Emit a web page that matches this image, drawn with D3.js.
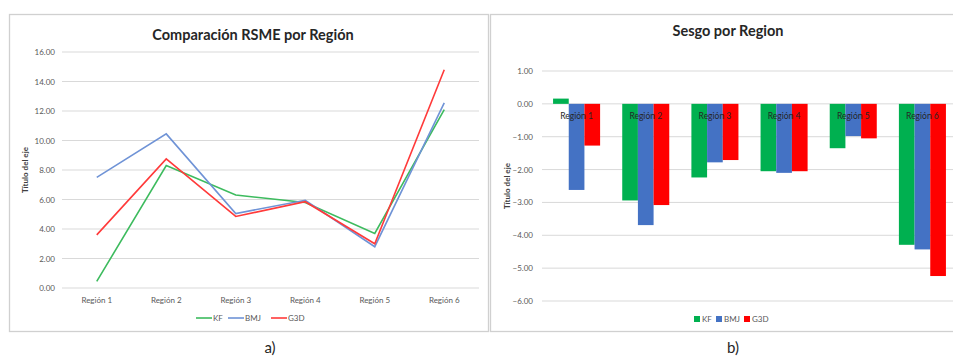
<!DOCTYPE html>
<html lang="es">
<head>
  <meta charset="UTF-8">
  <title>RSME y Sesgo por Región</title>
  <script src="https://d3js.org/d3.v7.min.js"></script>
  <style>
    body { margin: 0; background: #fff; }
    svg { display: block; font-family: Lato, "Liberation Sans", sans-serif; }
    .tick-label { font-size: 8px; fill: #595959; }
    .chart-title { font-size: 14.5px; font-weight: bold; fill: #262626; }
    .axis-title { font-size: 8px; font-weight: bold; fill: #404040; }
  </style>
</head>
<body>
  <svg id="chart" width="953" height="356"></svg>
  <script>
    const regions = ["Región 1", "Región 2", "Región 3", "Región 4", "Región 5", "Región 6"];
    const seriesNames = ["KF", "BMJ", "G3D"];

    // RSME por región
    const rsmeKF  = [0.45, 8.3, 6.3, 5.8, 3.7, 12.1];
    const rsmeBMJ = [7.5, 10.45, 5.05, 5.95, 2.8, 12.55];
    const rsmeG3D = [3.6, 8.75, 4.85, 5.85, 3.0, 14.8];
    const rsmeTicks = [0, 2, 4, 6, 8, 10, 12, 14, 16];

    // Sesgo por región
    const sesgoKF  = [0.16, -2.94, -2.24, -2.05, -1.35, -4.29];
    const sesgoBMJ = [-2.62, -3.69, -1.78, -2.1, -0.98, -4.43];
    const sesgoG3D = [-1.27, -3.08, -1.71, -2.05, -1.05, -5.24];
    const sesgoTicks = [1, 0, -1, -2, -3, -4, -5, -6];

    const lineColors = ["#3dbb5e", "#6f93d6", "#ff3a3a"];
    const barColors = ["#00b050", "#4472c4", "#ff0000"];
    const fmt = d3.format(".2f");

    const svg = d3.select("#chart");

    // panel frames
    svg.append("rect").attr("x", 9.5).attr("y", 14.5).attr("width", 479).attr("height", 317)
      .attr("fill", "none").attr("stroke", "#d0d0d0").attr("stroke-width", 1.3);
    svg.append("rect").attr("x", 490.5).attr("y", 14.5).attr("width", 480).attr("height", 317)
      .attr("fill", "none").attr("stroke", "#d0d0d0").attr("stroke-width", 1.3);

    // ---------- a) line chart ----------
    const yA = d3.scaleLinear().domain([0, 16]).range([288, 52]);
    const xA = d3.scalePoint().domain(regions).range([62, 479]).padding(0.5);
    const gA = svg.append("g");

    gA.selectAll(".grid").data(rsmeTicks).enter().append("line")
      .attr("x1", 62).attr("x2", 479)
      .attr("y1", d => yA(d)).attr("y2", d => yA(d))
      .attr("stroke", "#d9d9d9").attr("stroke-width", 1);

    gA.selectAll(".ylab").data(rsmeTicks).enter().append("text")
      .attr("class", "tick-label")
      .attr("x", 55).attr("y", d => yA(d) + 3)
      .attr("text-anchor", "end")
      .text(d => fmt(d));

    gA.selectAll(".xlab").data(regions).enter().append("text")
      .attr("class", "tick-label")
      .attr("x", d => xA(d)).attr("y", 303)
      .attr("text-anchor", "middle")
      .text(d => d);

    const line = d3.line().x((d, i) => xA(regions[i])).y(d => yA(d));
    [rsmeKF, rsmeBMJ, rsmeG3D].forEach((s, k) => {
      gA.append("path").datum(s)
        .attr("d", line)
        .attr("fill", "none")
        .attr("stroke", lineColors[k])
        .attr("stroke-width", 1.6);
    });

    gA.append("text").attr("class", "chart-title")
      .attr("x", 253).attr("y", 40).attr("text-anchor", "middle")
      .text("Comparación RSME por Región");

    gA.append("text").attr("class", "axis-title")
      .attr("transform", "translate(28,170) rotate(-90)")
      .attr("text-anchor", "middle")
      .text("Título del eje");

    const legA = gA.append("g").attr("transform", "translate(196,318)");
    const legAx = [0, 32, 75];
    seriesNames.forEach((n, k) => {
      legA.append("line").attr("x1", legAx[k]).attr("x2", legAx[k] + 16)
        .attr("y1", 0).attr("y2", 0)
        .attr("stroke", lineColors[k]).attr("stroke-width", 1.6);
      legA.append("text").attr("class", "tick-label")
        .attr("x", legAx[k] + 17).attr("y", 3).text(n);
    });

    svg.append("text").attr("x", 270).attr("y", 353)
      .attr("text-anchor", "middle")
      .style("font-size", "15px").style("fill", "#262626")
      .text("a)");

    // ---------- b) bar chart ----------
    const yB = d3.scaleLinear().domain([-6, 1]).range([301, 71]);
    const xB = d3.scaleBand().domain(regions).range([542, 957])
      .paddingInner(0.32).paddingOuter(0.16);
    const xS = d3.scaleBand().domain(seriesNames).range([0, xB.bandwidth()]);
    const gB = svg.append("g");

    gB.selectAll(".grid").data(sesgoTicks).enter().append("line")
      .attr("x1", 542).attr("x2", 953)
      .attr("y1", d => yB(d)).attr("y2", d => yB(d))
      .attr("stroke", "#d9d9d9").attr("stroke-width", 1);

    gB.selectAll(".ylab").data(sesgoTicks).enter().append("text")
      .attr("class", "tick-label")
      .attr("x", 533).attr("y", d => yB(d) + 3)
      .attr("text-anchor", "end")
      .text(d => fmt(d));

    [sesgoKF, sesgoBMJ, sesgoG3D].forEach((s, k) => {
      gB.selectAll(".bar" + k).data(s).enter().append("rect")
        .attr("x", (d, i) => xB(regions[i]) + xS(seriesNames[k]))
        .attr("y", d => yB(Math.max(0, d)))
        .attr("width", xS.bandwidth())
        .attr("height", d => Math.abs(yB(d) - yB(0)))
        .attr("fill", barColors[k]);
    });

    gB.selectAll(".xlab").data(regions).enter().append("text")
      .attr("class", "tick-label")
      .attr("x", d => xB(d) + xB.bandwidth() / 2).attr("y", 119)
      .attr("text-anchor", "middle")
      .style("fill", "#262626")
      .style("font-size", "8.5px")
      .text(d => d);

    gB.append("text").attr("class", "chart-title")
      .attr("x", 728).attr("y", 36).attr("text-anchor", "middle")
      .text("Sesgo por Region");

    gB.append("text").attr("class", "axis-title")
      .attr("transform", "translate(510,186) rotate(-90)")
      .attr("text-anchor", "middle")
      .text("Título del eje");

    const legB = gB.append("g").attr("transform", "translate(694,319)");
    const legBx = [0, 22, 50];
    seriesNames.forEach((n, k) => {
      legB.append("rect").attr("x", legBx[k]).attr("y", -3)
        .attr("width", 6).attr("height", 6).attr("fill", barColors[k]);
      legB.append("text").attr("class", "tick-label")
        .attr("x", legBx[k] + 8).attr("y", 3).text(n);
    });

    svg.append("text").attr("x", 733).attr("y", 353)
      .attr("text-anchor", "middle")
      .style("font-size", "15px").style("fill", "#262626")
      .text("b)");
  </script>
</body>
</html>
